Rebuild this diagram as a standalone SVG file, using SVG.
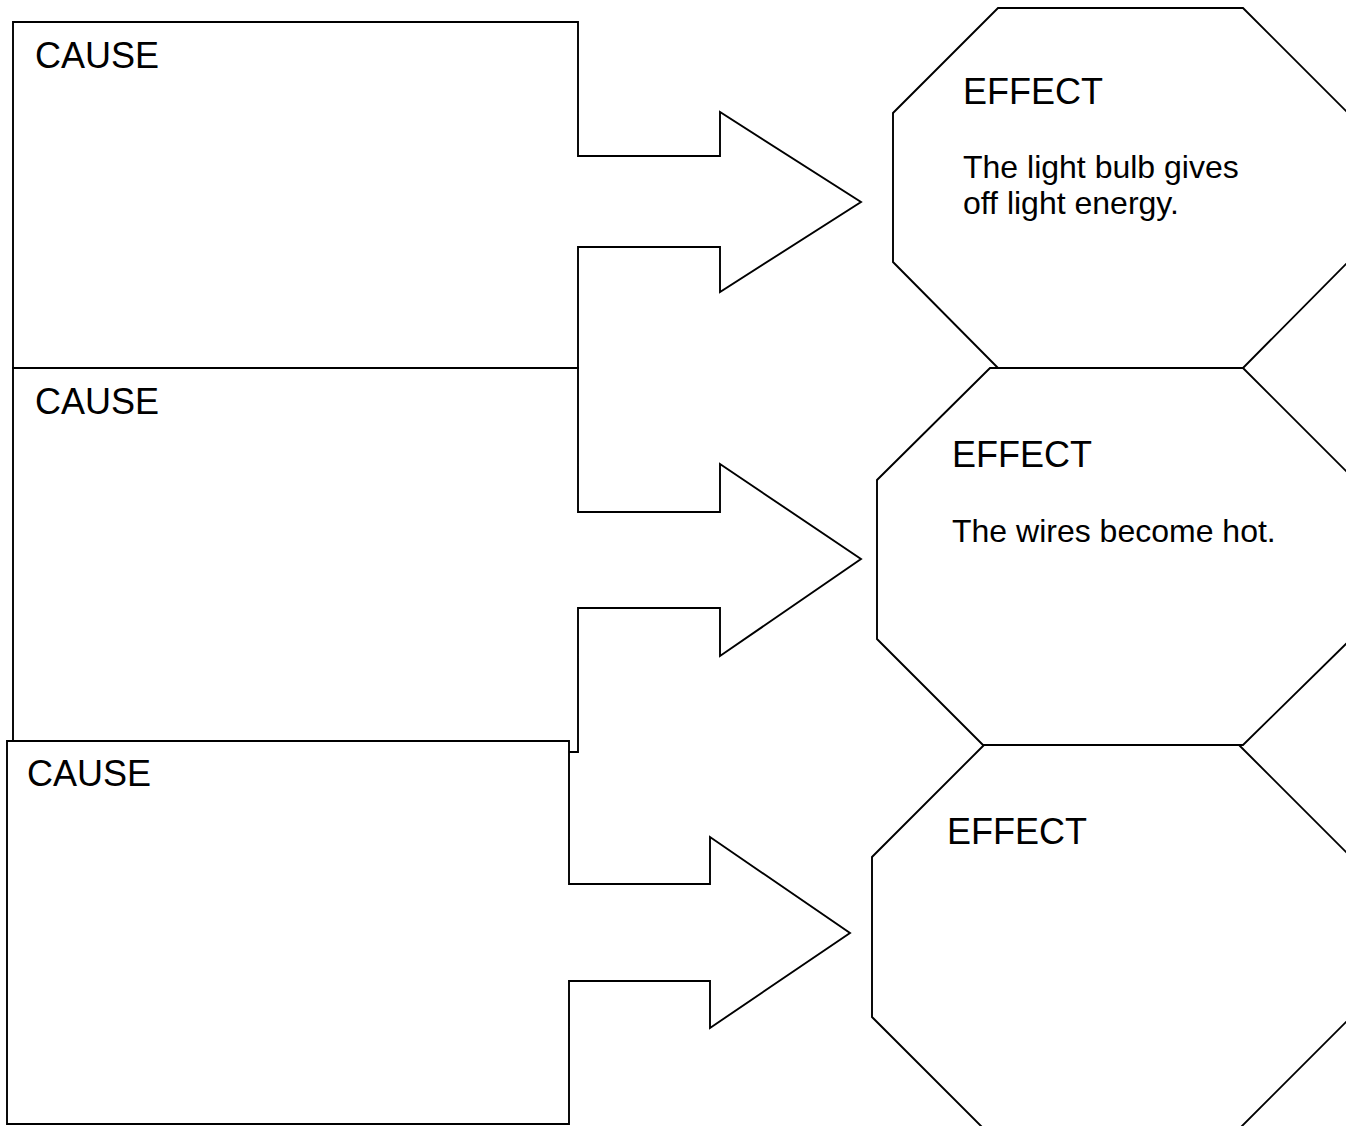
<svg xmlns="http://www.w3.org/2000/svg" width="1346" height="1126" viewBox="0 0 1346 1126">
<style>
.shape{fill:#ffffff;stroke:#000000;stroke-width:1.9;stroke-linejoin:miter}
.title{font-family:"Liberation Sans",Arial,sans-serif;font-size:36px;fill:#000000}
.body{font-family:"Liberation Sans",Arial,sans-serif;font-size:32px;fill:#000000}
</style>
<rect width="1346" height="1126" fill="#ffffff"/>
<g id="effect1">
<polygon class="shape" points="998,8 1243,8 1348,113 1348,262 1243,368 998,368 893,262 893,113"/>
<text class="title" x="963" y="104">EFFECT</text>
<text class="body" x="963" y="178">The light bulb gives</text>
<text class="body" x="963" y="214">off light energy.</text>
</g>
<g id="effect2">
<polygon class="shape" points="990,368 1243,368 1350,475 1350,640 1243,745 983,745 877,639 877,480"/>
<text class="title" x="952" y="467">EFFECT</text>
<text class="body" x="952" y="542">The wires become hot.</text>
</g>
<g id="effect3">
<polygon class="shape" points="984,745 1239,745 1351,857 1351,1017 1239,1129 984,1129 872,1017 872,857"/>
<text class="title" x="947" y="844">EFFECT</text>
</g>
<g id="connectors">
</g>
<g id="cause1">
<polygon class="shape" points="13,22 578,22 578,156 720,156 720,112 861,202 720,292 720,247 578,247 578,368 13,368"/>
<text class="title" x="35" y="68">CAUSE</text>
</g>
<g id="cause2">
<polygon class="shape" points="13,368 578,368 578,512 720,512 720,464 861,559 720,656 720,608 578,608 578,752 13,752"/>
<text class="title" x="35" y="414">CAUSE</text>
</g>
<g id="cause3">
<polygon class="shape" points="7,741 569,741 569,884 710,884 710,837 850,933 710,1028 710,981 569,981 569,1124 7,1124"/>
<text class="title" x="27" y="786">CAUSE</text>
</g>
</svg>
